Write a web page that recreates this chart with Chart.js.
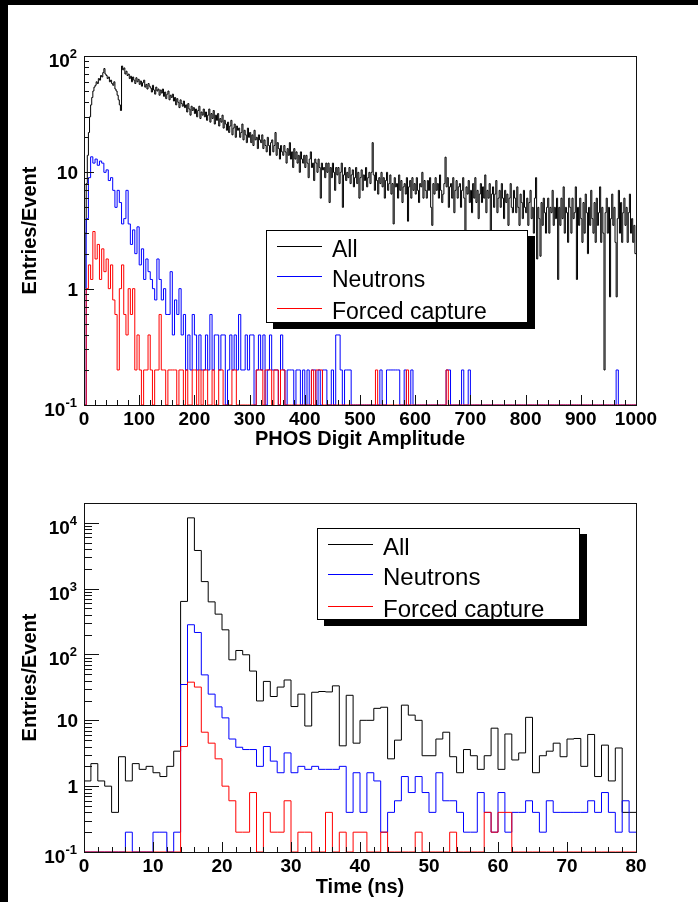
<!DOCTYPE html>
<html>
<head>
<meta charset="utf-8">
<script src="https://cdn.jsdelivr.net/npm/chart.js@4.4.0/dist/chart.umd.min.js"></script>
<style>
  html, body { margin: 0; padding: 0; background: #fff; }
  body { width: 698px; height: 902px; position: relative; overflow: hidden; }
  canvas { position: absolute; left: 0; }
  #ampChart { top: 0; }
  #timeChart { top: 450px; }
  .edge { position: absolute; background: #000; z-index: 2; }
  .legend {
    position: absolute; z-index: 1; background: #fff;
    border: 1px solid #000; box-shadow: 7px 6px 0 #000;
    font-family: 'Liberation Sans', Arial, Helvetica, sans-serif; color: #000;
  }
  .legend .key { position: absolute; height: 1px; }
  .legend .name { position: absolute; line-height: 1; white-space: nowrap; }
</style>
</head>
<body>
<canvas id="ampChart" width="698" height="450"></canvas>
<canvas id="timeChart" width="698" height="452"></canvas>
<div class="legend" id="ampLegend"></div>
<div class="legend" id="timeLegend"></div>
<div class="edge" style="left:0;top:0;width:698px;height:5px"></div>
<div class="edge" style="left:0;top:0;width:8px;height:902px"></div>
<script>
// ---- data ----
const seriesNames = ['All', 'Neutrons', 'Forced capture'];
const seriesColors = ['#000000', '#0000ff', '#ff0000'];

// PHOS digit amplitude 0..1000; "All" in 2-unit bins, the others in 4-unit bins
const ampAllBinWidth = 2;
const ampAll = [
  1, 3, 8, 14, 22, 30, 38, 44, 50, 54,
  56, 60, 58, 64, 62, 68, 66, 72, 78, 70,
  68, 64, 66, 60, 62, 58, 56, 60, 52, 50,
  46, 42, 38, 34, 82, 76, 79, 70, 74, 68,
  70, 64, 67, 60, 66, 62, 58, 65, 60, 63,
  57, 61, 55, 59, 62, 54, 57, 52, 58, 55,
  53, 49, 56, 51, 47, 54, 50, 52, 46, 51,
  48, 52, 45, 49, 43, 47, 50, 42, 46, 44,
  47, 41, 44, 38, 43, 40, 36, 42, 39, 37,
  41, 36, 38, 33, 39, 35, 31, 37, 34, 36,
  32, 35, 30, 34, 37, 29, 33, 31, 35, 30,
  33, 28, 31, 35, 27, 32, 29, 34, 26, 31,
  28, 32, 25, 29, 27, 31, 24, 28, 26, 23,
  27, 22, 25, 28, 21, 24, 26, 20, 25, 23,
  24, 20, 22, 26, 19, 23, 21, 18, 24, 20,
  22, 18, 21, 17, 23, 19, 20, 16, 21, 19,
  18, 21, 16, 19, 17, 15, 20, 17, 14, 18,
  19, 15, 17, 22, 14, 18, 16, 13, 17, 15,
  14, 17, 15, 12, 16, 14, 18, 13, 15, 11,
  16, 13, 15, 12, 14, 10, 15, 13, 12, 14,
  11, 14, 12, 9, 13, 15, 11, 12, 8.5, 13,
  12, 10, 13, 11, 6, 12, 10.5, 11, 9, 12,
  10, 12, 5.5, 11, 9, 12, 10, 7, 11, 9.5,
  11, 8, 10, 12, 5, 9.5, 11, 8.5, 10, 9,
  11, 8, 9.5, 10.5, 7.5, 9, 11, 8, 10, 6,
  9, 10.5, 7, 9.5, 8.5, 11, 7.5, 9, 10, 8,
  10, 18, 9.5, 7, 10, 8.5, 6.5, 9, 8, 10,
  7.5, 9, 6, 8.5, 10, 7, 8, 9.5, 6.5, 8,
  3.6, 9, 7.5, 8, 6, 9.5, 7, 8.5, 5.5, 7.5,
  8, 6.5, 9, 3.8, 7.5, 8.5, 6, 9, 7, 8,
  6.5, 9, 7, 5.5, 8, 7.5, 10, 6, 8.5, 7,
  6, 8.5, 7, 9, 5, 3.5, 8, 6.5, 9, 7,
  8, 6, 9.5, 7, 5.5, 6.5, 8, 13.5, 7.5, 9,
  5, 7.5, 8, 6, 9, 4.5, 7, 8.5, 6, 7.5,
  8, 5, 7, 9, 6, 3, 7.5, 6.5, 8.5, 5.5,
  7, 4.5, 8, 6, 9, 5.5, 7, 4, 6.5, 8,
  5.5, 7.5, 6, 9.5, 4.5, 7, 6, 8, 3, 6.5,
  7.5, 5, 6.5, 8.5, 4.5, 6, 7, 5, 8, 6,
  4, 7, 5.5, 6.5, 3.5, 6, 8, 5, 4.5, 7,
  6, 4.5, 7.5, 5, 3.5, 6.5, 5.5, 4, 7, 5,
  4.5, 6, 3.5, 5.5, 7, 4, 5, 3, 6, 9,
  1.8, 5, 4, 1.9, 5.5, 3.5, 6, 4.5, 3, 5,
  6, 3, 5, 4.5, 7, 3.5, 5, 4, 6, 1.2,
  5, 3.5, 6, 4, 7.5, 3, 5, 4.5, 2.5, 6,
  5, 3, 6, 4, 4.5, 7.5, 1.2, 5, 3.5, 6,
  4, 2.5, 5.5, 3, 6.5, 4.5, 2, 5, 3.5, 7,
  4, 3, 5.5, 2.5, 6, 3.5, 4.5, 7.5, 2.5, 5,
  3, 0.2, 4.5, 6, 3, 5, 0.85, 4, 6.5, 3.5,
  5, 2.5, 0.85, 4, 7, 3, 5.5, 2.5, 4.5, 6,
  3.5, 5, 2.5, 4.5, 6.5, 3, 4, 2.5, 3.5, 2
];
const ampSplitBinWidth = 4;
const ampNeutrons = [
  0, 4, 9, 13.6, 12, 13, 11.5, 12.5, 12, 10,
  10.5, 8.5, 9, 7, 5, 7, 5.5, 3.6, 4, 7,
  3.6, 2.4, 3.2, 2, 3.4, 1.6, 2.2, 1.2, 1.8, 1.4,
  1.2, 1, 0.8, 1.8, 1.2, 0.8, 1, 0.6, 0.6, 1.4,
  0.4, 0.8, 0.6, 1, 0.4, 0.6, 0.2, 0.4, 0.2, 0.6,
  0.4, 0.2, 0.4, 0.2, 0.2, 0.4, 0.2, 0.6, 0.2, 0.4,
  0.4, 0.2, 0.4, 0.4, 0, 0.2, 0.4, 0.2, 0.4, 0.2,
  0.6, 0.2, 0.2, 0.4, 0.2, 0.4, 0.4, 0, 0.2, 0.4,
  0.2, 0.4, 0, 0.2, 0.4, 0.2, 0.2, 0.2, 0, 0.4,
  0.2, 0, 0.2, 0.2, 0.2, 0, 0.2, 0.2, 0, 0.2,
  0, 0.2, 0, 0.2, 0.2, 0, 0.2, 0, 0.2, 0.2,
  0, 0, 0.2, 0, 0.4, 0.4, 0.2, 0, 0.2, 0.2,
  0.2, 0, 0, 0, 0, 0, 0, 0, 0, 0,
  0, 0, 0, 0, 0.2, 0, 0, 0.2, 0.2, 0.2,
  0.2, 0.2, 0.2, 0, 0, 0.2, 0, 0, 0.2, 0,
  0, 0, 0, 0, 0, 0, 0, 0, 0, 0,
  0, 0, 0, 0, 0.2, 0.2, 0, 0, 0, 0,
  0, 0.2, 0, 0, 0.2, 0, 0, 0, 0, 0,
  0, 0, 0, 0, 0, 0, 0, 0, 0, 0,
  0, 0, 0, 0, 0, 0, 0, 0, 0, 0,
  0, 0, 0, 0, 0, 0, 0, 0, 0, 0,
  0, 0, 0, 0, 0, 0, 0, 0, 0, 0,
  0, 0, 0, 0, 0, 0, 0, 0, 0, 0,
  0, 0, 0, 0, 0, 0, 0, 0, 0, 0,
  0, 0.2, 0, 0, 0, 0, 0, 0, 0, 0
];
const ampCapture = [
  0, 1, 1.6, 1.2, 3.1, 1.8, 2.4, 1.2, 2.2, 1.4,
  1.8, 1, 1.6, 0.8, 0.6, 0.2, 1, 1.6, 0.6, 0.4,
  1, 0.6, 1, 0.2, 0.4, 0.2, 0, 0.2, 0.2, 0.4,
  0.2, 0, 0.2, 0.2, 0.6, 0.2, 0.2, 0, 0.2, 0.2,
  0.2, 0.2, 0, 0.2, 0.2, 0, 0.2, 0, 0, 0.2,
  0.2, 0, 0.2, 0, 0.2, 0.2, 0, 0, 0.2, 0,
  0, 0.2, 0.2, 0, 0, 0, 0, 0.2, 0.2, 0,
  0, 0, 0, 0, 0, 0, 0, 0, 0.2, 0.2,
  0.2, 0, 0.2, 0.2, 0.2, 0, 0.2, 0.2, 0, 0.2,
  0.2, 0, 0, 0, 0, 0, 0, 0, 0, 0,
  0, 0, 0, 0.2, 0, 0.2, 0.2, 0.2, 0, 0,
  0, 0, 0, 0, 0, 0, 0, 0, 0, 0,
  0, 0, 0, 0, 0, 0, 0, 0, 0, 0,
  0, 0, 0.2, 0, 0, 0, 0, 0, 0, 0,
  0, 0, 0, 0, 0, 0, 0.2, 0, 0, 0,
  0, 0, 0, 0, 0, 0, 0, 0, 0, 0,
  0, 0, 0, 0, 0.2, 0, 0, 0, 0, 0,
  0, 0, 0, 0, 0, 0, 0, 0, 0, 0,
  0, 0, 0, 0, 0, 0, 0, 0, 0, 0,
  0, 0, 0, 0, 0, 0, 0, 0, 0, 0,
  0, 0, 0, 0, 0, 0, 0, 0, 0, 0,
  0, 0, 0, 0, 0, 0, 0, 0, 0, 0,
  0, 0, 0, 0, 0, 0, 0, 0, 0, 0,
  0, 0, 0, 0, 0, 0, 0, 0, 0, 0,
  0, 0, 0, 0, 0, 0, 0, 0, 0, 0
];
const ampXTicks = [0, 100, 200, 300, 400, 500, 600, 700, 800, 900, 1000];
const ampYTicks = [0.1, 1, 10, 100];
const ampYLabels = [['10', '-1'], ['1', ''], ['10', ''], ['10', '2']];

// time, 1 ns bins, 0..80
const timeBinWidth = 1;
const timeAll = [
  1.2, 2.2, 1.2, 1.0, 0.4, 2.8, 1.2, 2.2, 1.8, 2.0,
  1.6, 1.4, 2.0, 3.4, 640, 11900, 3800, 1280, 630, 410,
  237, 83, 115, 99, 56, 19.7, 39, 23, 32, 41,
  16.2, 25, 8.2, 26.7, 27.4, 27, 33.4, 4.1, 24, 4.5,
  10, 10, 15.2, 15.8, 2.6, 5.0, 17, 12, 10, 2.9,
  2.9, 5.2, 6.6, 2.8, 1.6, 3.6, 2.9, 1.8, 2.9, 7.6,
  1.8, 6.2, 2.5, 3.2, 11.1, 1.6, 2.9, 3.4, 4.5, 2.8,
  5.2, 5.3, 2.0, 6.1, 1.4, 4.2, 1.2, 3.8, 0.4, 0.4
];
const timeNeutrons = [
  0, 0, 0, 0, 0, 0, 0.2, 0, 0, 0,
  0.2, 0.2, 0, 0.2, 35, 283, 216, 49, 25, 16,
  10.9, 5.2, 3.9, 3.6, 3.6, 2.0, 4.0, 2.4, 1.6, 3.2,
  1.6, 2.0, 1.8, 2.0, 1.8, 1.8, 1.8, 2.0, 0.4, 1.6,
  0.4, 1.6, 1.2, 0.2, 0.4, 0.6, 1.4, 0.8, 1.4, 0.8,
  0.4, 1.6, 0.6, 0.6, 0.4, 0.2, 0.2, 0.8, 0.4, 0.2,
  0.8, 0.2, 0.4, 0.4, 0.6, 0.4, 0.2, 0.6, 0.4, 0.4,
  0.4, 0.4, 0.4, 0.6, 0.4, 0.8, 0.4, 0.2, 0.6, 0.2
];
const timeCapture = [
  0, 0, 0, 0, 0, 0, 0, 0, 0, 0,
  0, 0, 0, 0, 4.0, 38, 32, 6.6, 4.5, 2.6,
  1.0, 0.6, 0.2, 0.2, 0.8, 0, 0.4, 0.2, 0.2, 0.6,
  0, 0.2, 0.2, 0, 0, 0.4, 0, 0.2, 0, 0.2,
  0.2, 0, 0, 0.2, 0, 0, 0, 0, 0.2, 0,
  0, 0, 0, 0.2, 0, 0, 0, 0, 0.4, 0.2,
  0.4, 0.4, 0, 0, 0, 0, 0, 0, 0, 0,
  0, 0, 0, 0, 0, 0, 0, 0, 0, 0
];
const timeXTicks = [0, 10, 20, 30, 40, 50, 60, 70, 80];
const timeYTicks = [0.1, 1, 10, 100, 1000, 10000];
const timeYLabels = [['10', '-1'], ['1', ''], ['10', ''], ['10', '2'], ['10', '3'], ['10', '4']];

const FONT = "'Liberation Sans', Arial, Helvetica, sans-serif";

// bin contents -> step points; empty bins sit on the axis floor like ROOT does
function histPoints(values, width, floor) {
  const pts = values.map((v, i) => ({ x: i * width, y: v > 0 ? v : floor }));
  pts.push({ x: values.length * width, y: pts[pts.length - 1].y });
  return pts;
}

// frame, inward ticks, tick labels and axis titles
function rootStylePlugin(cfg) {
  return {
    id: 'rootStyle',
    afterDraw(chart) {
      const ctx = chart.ctx;
      const a = chart.chartArea;
      const xs = chart.scales.x, ys = chart.scales.y;
      const L = Math.round(a.left), R = Math.round(a.right);
      const T = Math.round(a.top), B = Math.round(a.bottom);
      ctx.save();
      ctx.strokeStyle = '#111';
      ctx.lineWidth = 1;
      ctx.strokeRect(L + 0.5, T + 0.5, R - L, B - T);

      // y ticks, log decades with minor 2..9
      ctx.beginPath();
      const d0 = Math.floor(Math.log10(cfg.yMin)), d1 = Math.ceil(Math.log10(cfg.yMax));
      for (let d = d0; d <= d1; d++) {
        for (let m = 1; m <= 9; m++) {
          const v = m * Math.pow(10, d);
          if (v < cfg.yMin * 0.999 || v > cfg.yMax) continue;
          const py = Math.round(ys.getPixelForValue(v)) + 0.5;
          const len = m === 1 ? cfg.yMajorLen : cfg.yMinorLen;
          ctx.moveTo(L, py); ctx.lineTo(L + len, py);
        }
      }
      // x ticks, 5 subdivisions
      const xt = cfg.xTicks;
      const step = xt[1] - xt[0];
      for (let i = 0; i < xt.length; i++) {
        for (let s = 0; s < 5; s++) {
          const v = xt[i] + s * step / 5;
          if (v > xt[xt.length - 1]) break;
          const px = Math.round(xs.getPixelForValue(v)) + 0.5;
          const len = s === 0 ? cfg.xMajorLen : cfg.xMinorLen;
          ctx.moveTo(px, B); ctx.lineTo(px, B - len);
        }
      }
      ctx.stroke();

      ctx.fillStyle = '#000';
      ctx.font = 'bold 19px ' + FONT;
      ctx.textAlign = 'center';
      ctx.textBaseline = 'alphabetic';
      xt.forEach(t => ctx.fillText(String(t), xs.getPixelForValue(t), B + 20));

      cfg.yTicks.forEach((v, i) => {
        const [base, sup] = cfg.yLabels[i];
        const py = ys.getPixelForValue(v);
        ctx.textAlign = 'right';
        if (sup) {
          ctx.font = 'bold 13px ' + FONT;
          const sw = ctx.measureText(sup).width;
          ctx.fillText(sup, 77, py + 2);
          ctx.font = 'bold 19px ' + FONT;
          ctx.fillText(base, 77 - sw, py + 11);
        } else {
          ctx.font = 'bold 19px ' + FONT;
          ctx.fillText(base, 78, py + 7);
        }
      });

      ctx.font = 'bold 20px ' + FONT;
      ctx.textAlign = 'center';
      ctx.fillText(cfg.xTitle, (L + R) / 2, cfg.xTitleY);
      ctx.save();
      ctx.translate(30, (T + B) / 2);
      ctx.rotate(-Math.PI / 2);
      ctx.textBaseline = 'middle';
      ctx.fillText(cfg.yTitle, 0, 0);
      ctx.restore();
      ctx.restore();
    }
  };
}

// ROOT-like legend box (page coordinates), built as HTML
function buildLegend(id, g) {
  const box = document.getElementById(id);
  box.style.left = g.x0 + 'px';
  box.style.top = g.y0 + 'px';
  box.style.width = (g.x1 - g.x0 - 2) + 'px';
  box.style.height = (g.y1 - g.y0 - 2) + 'px';
  seriesNames.forEach((name, k) => {
    const key = document.createElement('div');
    key.className = 'key';
    key.style.background = seriesColors[k];
    key.style.left = (g.lineX0 - g.x0 - 1) + 'px';
    key.style.width = (g.lineX1 - g.lineX0) + 'px';
    key.style.top = (g.rows[k] - g.y0 - 1) + 'px';
    box.appendChild(key);
    const label = document.createElement('div');
    label.className = 'name';
    label.textContent = name;
    label.style.fontSize = g.fontSize + 'px';
    label.style.left = (g.textX - g.x0 - 1) + 'px';
    label.style.top = (g.rows[k] + 11 - 0.8465 * g.fontSize - g.y0 - 1) + 'px';
    box.appendChild(label);
  });
}

function makeHistChart(canvasId, cfg) {
  const datasets = cfg.series.map((vals, k) => ({
    label: seriesNames[k],
    data: histPoints(vals, cfg.binWidths[k], cfg.yMin),
    borderColor: seriesColors[k],
    borderWidth: 1,
    pointRadius: 0,
    stepped: 'before',
    fill: false,
    clip: 2,
    order: 3 - k
  }));
  return new Chart(document.getElementById(canvasId), {
    type: 'line',
    data: { datasets },
    options: {
      responsive: false,
      animation: false,
      devicePixelRatio: 1,
      layout: { padding: cfg.padding },
      plugins: { legend: { display: false }, tooltip: { enabled: false } },
      scales: {
        x: {
          type: 'linear',
          min: cfg.xTicks[0],
          max: cfg.xTicks[cfg.xTicks.length - 1],
          grid: { display: false },
          border: { display: false },
          ticks: { display: false },
          afterFit: s => { s.height = cfg.xAxisHeight; }
        },
        y: {
          type: 'logarithmic',
          min: cfg.yMin,
          max: cfg.yMax,
          grid: { display: false },
          border: { display: false },
          ticks: { display: false },
          afterFit: s => { s.width = 84; }
        }
      }
    },
    plugins: [rootStylePlugin(cfg)]
  });
}

makeHistChart('ampChart', {
  series: [ampAll, ampNeutrons, ampCapture],
  binWidths: [ampAllBinWidth, ampSplitBinWidth, ampSplitBinWidth],
  xTicks: ampXTicks,
  yTicks: ampYTicks,
  yLabels: ampYLabels,
  yMin: 0.1, yMax: 100,
  padding: { left: 0, top: 56, right: 62, bottom: 0 },
  xAxisHeight: 45,
  yMajorLen: 10, yMinorLen: 5,
  xMajorLen: 10, xMinorLen: 5,
  xTitle: 'PHOS Digit Amplitude', xTitleY: 445,
  yTitle: 'Entries/Event'
});
buildLegend('ampLegend', {
  x0: 266, y0: 230, x1: 528, y1: 323,
  lineX0: 277, lineX1: 322, rows: [246, 276, 308],
  textX: 332, fontSize: 23
});

makeHistChart('timeChart', {
  series: [timeAll, timeNeutrons, timeCapture],
  binWidths: [timeBinWidth, timeBinWidth, timeBinWidth],
  xTicks: timeXTicks,
  yTicks: timeYTicks,
  yLabels: timeYLabels,
  yMin: 0.1, yMax: 20000,
  padding: { left: 0, top: 53, right: 62, bottom: 0 },
  xAxisHeight: 50,
  yMajorLen: 15, yMinorLen: 8,
  xMajorLen: 10, xMinorLen: 5,
  xTitle: 'Time (ns)', xTitleY: 443,
  yTitle: 'Entries/Event'
});
buildLegend('timeLegend', {
  x0: 317, y0: 528, x1: 580, y1: 620,
  lineX0: 328, lineX1: 373, rows: [544, 574, 606],
  textX: 383, fontSize: 24
});
</script>
</body>
</html>
